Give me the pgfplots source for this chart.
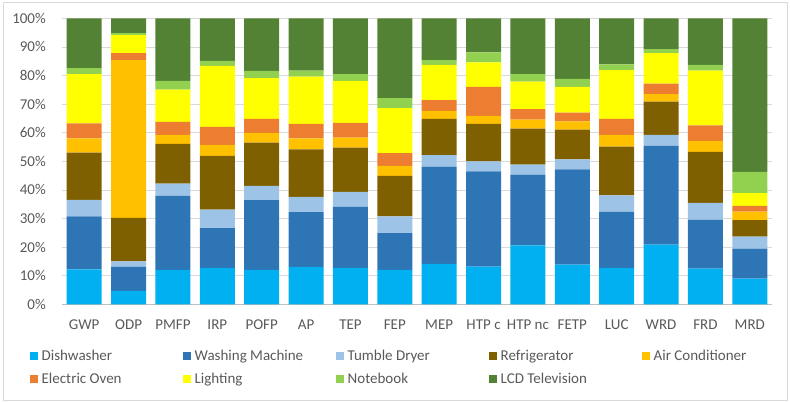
\documentclass[border=0pt]{standalone}
\usepackage{pgfplots}
\usepackage{pgfplotstable}
\usepackage{fontspec}
\setmainfont{Carlito}
\pgfplotsset{compat=1.18}
\definecolor{cDish}{HTML}{00B0F0}
\definecolor{cWash}{HTML}{2E75B6}
\definecolor{cDry}{HTML}{9DC3E6}
\definecolor{cRef}{HTML}{7F6000}
\definecolor{cAC}{HTML}{FFC000}
\definecolor{cOven}{HTML}{ED7D31}
\definecolor{cLight}{HTML}{FFFF00}
\definecolor{cNote}{HTML}{92D050}
\definecolor{cTV}{HTML}{548235}
\definecolor{txt}{HTML}{595959}
\definecolor{grid}{HTML}{D9D9D9}
\definecolor{axl}{HTML}{BFBFBF}
\pgfplotstableread{
x cat dish wm td ref ac eo light nb tv
0 GWP 12.2 18.5 5.8 16.5 5.0 5.3 17.2 2.1 17.4
1 ODP 4.7 8.5 1.8 15.2 55.2 2.4 6.3 0.7 5.2
2 PMFP 12.0 25.9 4.3 13.9 3.1 4.6 11.3 3.0 21.9
3 IRP 12.7 13.9 6.5 18.8 3.8 6.3 21.4 1.7 14.9
4 POFP 12.0 24.4 5.0 15.1 3.4 4.9 14.3 2.5 18.4
5 AP 13.1 19.1 5.4 16.6 3.8 5.1 16.5 2.1 18.3
6 TEP 12.7 21.4 5.2 15.5 3.5 5.1 14.7 2.4 19.5
7 FEP 12.0 12.9 5.8 14.2 3.5 4.5 15.7 3.5 27.9
8 MEP 14.1 34.0 4.1 12.6 2.8 3.8 12.3 1.7 14.6
9 HTPc 13.2 33.3 3.5 13.1 2.8 10.1 8.6 3.5 11.9
10 HTPnc 20.6 24.7 3.5 12.6 3.2 3.6 9.7 2.6 19.5
11 FETP 13.9 33.3 3.5 10.4 2.9 3.0 9.0 2.8 21.2
12 LUC 12.7 19.6 5.8 17.0 4.1 5.6 17.1 2.0 16.1
13 WRD 20.9 34.5 3.8 11.7 2.6 3.7 10.6 1.4 10.8
14 FRD 12.5 17.0 6.0 17.8 3.8 5.5 19.1 2.0 16.3
15 MRD 9.0 10.5 4.2 5.7 3.0 2.0 4.5 7.4 53.7
}\data
\newcommand{\legtxt}[1]{\makebox[145bp][l]{\hspace{4bp}#1}}
\begin{document}
\fontsize{15bp}{18bp}\selectfont
\begin{tikzpicture}
\begin{axis}[
  at={(62bp,97.7bp)}, anchor=south west,
  scale only axis, width=710bp, height=286bp,
  ybar stacked, bar width=35bp,
  xmin=-0.5, xmax=15.5, ymin=0, ymax=100,
  enlargelimits=false,
  xtick=data,
  xticklabels={GWP,ODP,PMFP,IRP,POFP,AP,TEP,FEP,MEP,HTP c,HTP nc,FETP,LUC,WRD,FRD,MRD},
  ytick={0,10,...,100},
  yticklabel={\pgfmathprintnumber{\tick}\%},
  /pgf/number format/assume math mode=true,
  major tick length=0pt,
  axis lines*=left,
  x axis line style={draw=axl, line width=0.75bp, -},
  y axis line style={draw=none},
  ymajorgrids, major grid style={draw=grid, line width=0.75bp},
  tick label style={text=txt},
  xticklabel style={anchor=north, inner sep=0pt, yshift=-15.5bp},
  yticklabel style={anchor=east, inner sep=0pt, xshift=-16bp},
  legend columns=5,
  legend style={draw=none, fill=none, inner sep=0pt, at={(-0.0458,-0.1563)}, anchor=north west,
    nodes={inner sep=0pt, text=txt, text height=11bp, text depth=3bp},
    cells={anchor=west}, row sep=9bp},
  legend image code/.code={\path[#1, draw=none] (0bp,-4bp) rectangle (8bp,4bp);},
  every axis plot/.append style={draw=none},
]
\addplot[fill=cDish] table[x=x, y=dish]{\data}; \addlegendentry{\legtxt{Dishwasher}}
\addplot[fill=cWash] table[x=x, y=wm]{\data}; \addlegendentry{\legtxt{Washing Machine}}
\addplot[fill=cDry] table[x=x, y=td]{\data}; \addlegendentry{\legtxt{Tumble Dryer}}
\addplot[fill=cRef] table[x=x, y=ref]{\data}; \addlegendentry{\legtxt{Refrigerator}}
\addplot[fill=cAC] table[x=x, y=ac]{\data}; \addlegendentry{\legtxt{Air Conditioner}}
\addplot[fill=cOven] table[x=x, y=eo]{\data}; \addlegendentry{\legtxt{Electric Oven}}
\addplot[fill=cLight] table[x=x, y=light]{\data}; \addlegendentry{\legtxt{Lighting}}
\addplot[fill=cNote] table[x=x, y=nb]{\data}; \addlegendentry{\legtxt{Notebook}}
\addplot[fill=cTV] table[x=x, y=tv]{\data}; \addlegendentry{\legtxt{LCD Television}}
\end{axis}
\draw[grid, line width=0.75bp] (3bp,2bp) rectangle (787bp,400bp);
\pgfresetboundingbox
\path[use as bounding box] (0bp,0bp) rectangle (790bp,402bp);
\end{tikzpicture}
\end{document}
